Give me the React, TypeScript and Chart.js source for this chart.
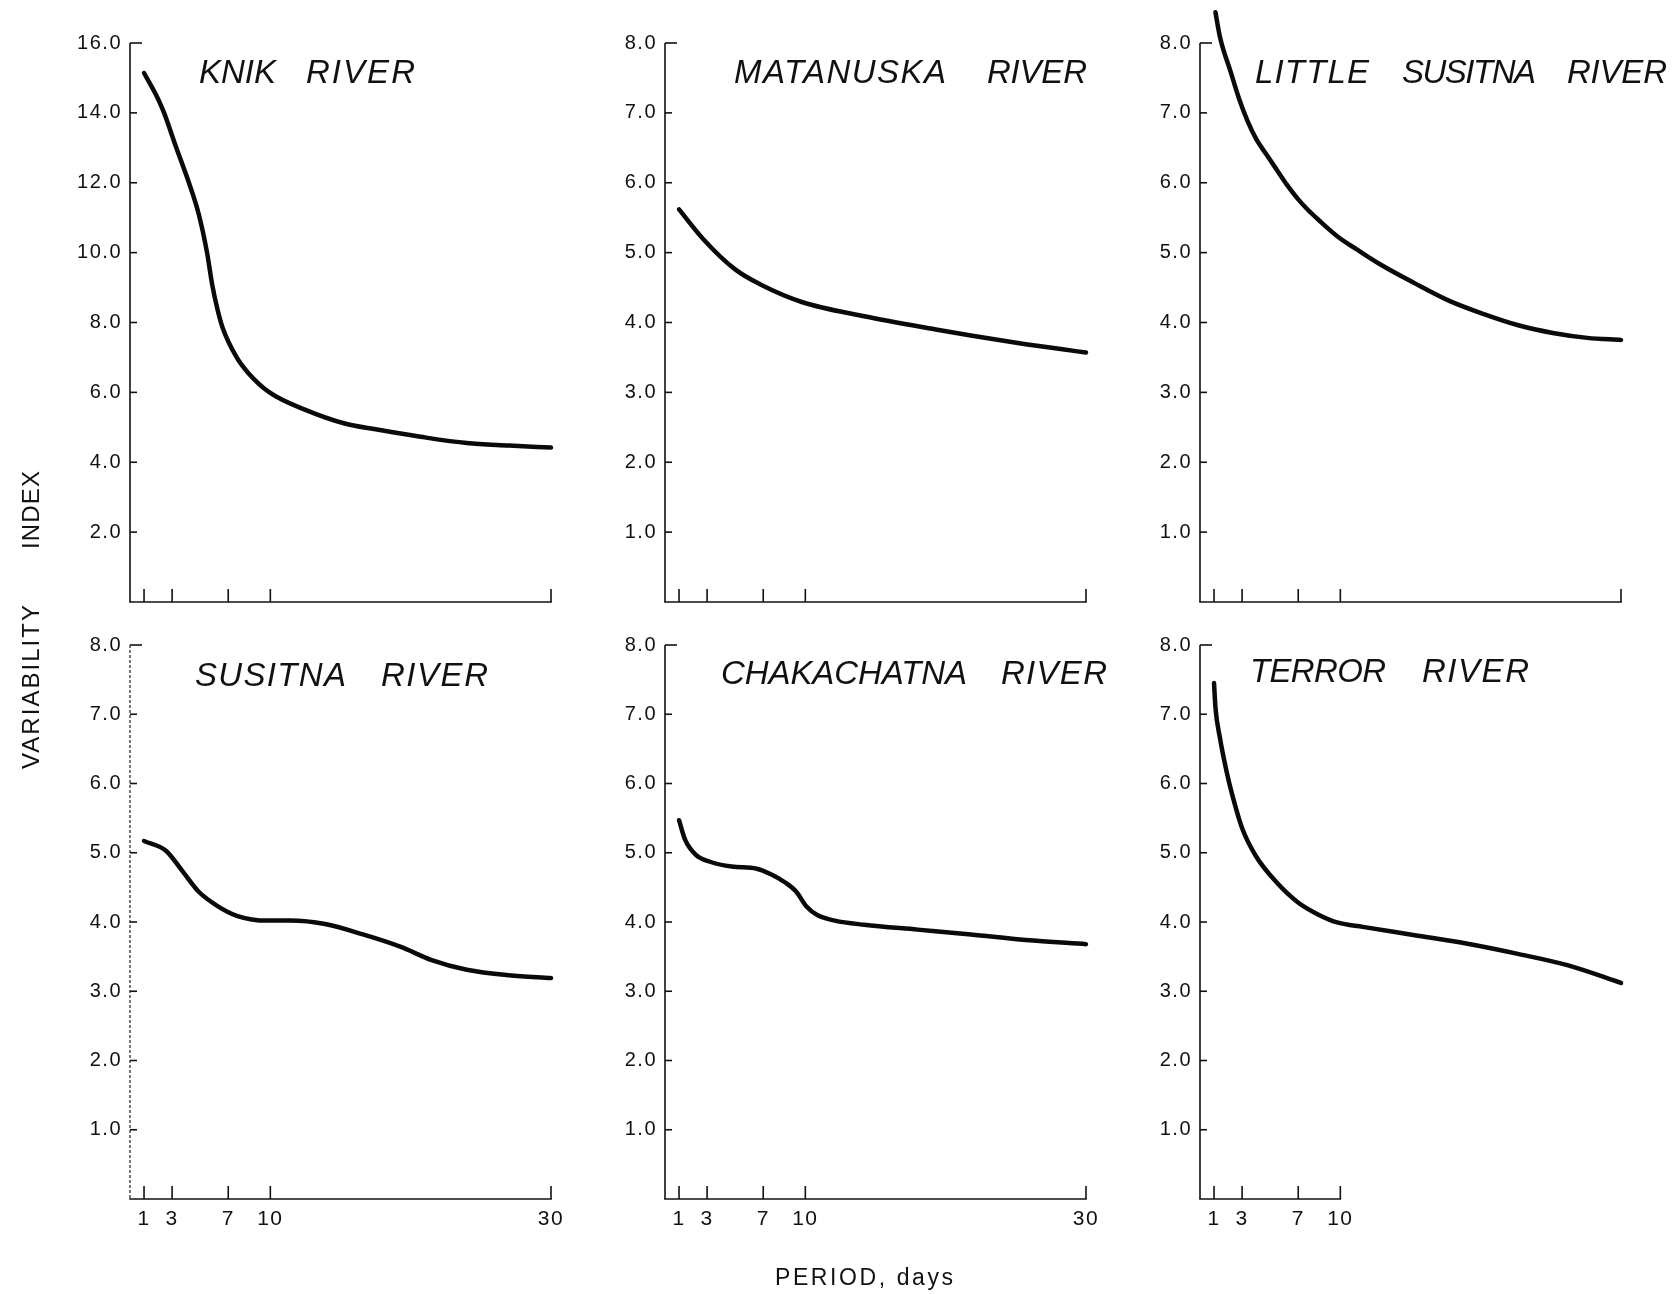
import React, { useEffect, useRef } from "react";
import { Chart, registerables } from "chart.js";

Chart.register(...registerables);

// Tick positions along the period axis (days)
const periodTicks = [1, 3, 7, 10, 30];
const terrorPeriodTicks = [1, 3, 7, 10];

// Tick positions along the variability-index axis
const indexTicksKnik = [2, 4, 6, 8, 10, 12, 14, 16];
const indexTicks = [1, 2, 3, 4, 5, 6, 7, 8];

// Knik River
const knikPeriod = [1, 2.0, 2.43, 3.3, 4.2, 4.9, 5.49, 5.85, 6.25, 6.6, 7.56, 8.44, 9.94, 12.5, 15.3, 17.4, 20.7, 24.0, 27.0, 30];
const knikIndex = [15.14, 14.4, 14.0, 13.0, 12.0, 11.1, 10.0, 9.1, 8.35, 7.85, 7.03, 6.55, 6.0, 5.5, 5.11, 4.95, 4.73, 4.55, 4.48, 4.42];

// Matanuska River
const matanuskaPeriod = [1, 2.7, 5.0, 6.84, 9.8, 14.2, 19.3, 21.9, 25.7, 28.2, 30];
const matanuskaIndex = [5.62, 5.2, 4.76, 4.54, 4.29, 4.09, 3.9, 3.81, 3.69, 3.62, 3.57];

// Little Susitna River
const littleSusitnaPeriod = [1.1, 1.44, 2.18, 2.79, 3.4, 4.02, 4.75, 5.49, 6.2, 6.97, 7.7, 8.44, 9.87, 11.14, 12.86, 15.32, 17.77, 20.23, 22.68, 25.14, 27.6, 30];
const littleSusitnaIndex = [8.44, 8.07, 7.59, 7.2, 6.88, 6.62, 6.4, 6.18, 5.97, 5.77, 5.61, 5.47, 5.22, 5.05, 4.83, 4.56, 4.31, 4.12, 3.96, 3.85, 3.78, 3.75];

// Susitna River
const susitnaPeriod = [1, 2.56, 3.79, 4.88, 6.24, 7.61, 9.79, 11.4, 13.9, 16.6, 19.3, 21.5, 24.0, 27.0, 30];
const susitnaIndex = [5.17, 5.03, 4.72, 4.44, 4.23, 4.09, 4.02, 4.02, 3.97, 3.82, 3.64, 3.45, 3.31, 3.23, 3.19];

// Chakachatna River
const chakachatnaPeriod = [1.0, 1.43, 2.2, 3.21, 4.75, 6.53, 7.55, 8.57, 9.34, 10.1, 10.85, 12.1, 14.2, 18.0, 21.8, 25.7, 30];
const chakachatnaIndex = [5.47, 5.19, 4.97, 4.87, 4.8, 4.77, 4.69, 4.57, 4.44, 4.22, 4.1, 4.02, 3.96, 3.89, 3.82, 3.74, 3.68];

// Terror River
const terrorPeriod = [1, 1.1, 1.42, 1.91, 2.28, 3.01, 3.99, 5.47, 6.94, 8.41, 9.84, 11.6, 15.3, 18.97, 22.65, 26.3, 30];
const terrorIndex = [7.45, 7.1, 6.66, 6.16, 5.85, 5.35, 4.95, 4.57, 4.29, 4.11, 3.99, 3.93, 3.81, 3.69, 3.54, 3.37, 3.12];

// Page grid: plot-area origin and size per column / row
const COLS = [
  { x0: 130, width: 421 },
  { x0: 665, width: 421 },
  { x0: 1200, width: 421 },
];
const ROWS = [
  { top: 43, height: 559 },
  { top: 645, height: 554 },
];
const AXIS_W = 70;
const PAD_TOP = 40;
const PAD_RIGHT = 30;
const AXIS_H = 45;

const INK = "#111111";
const LABEL_FAMILY = "'Liberation Sans', Arial, Helvetica, sans-serif";
const Y_TICK_FONT = { family: LABEL_FAMILY, size: 20 };
const X_TICK_FONT = { family: LABEL_FAMILY, size: 21 };
const TITLE_FONT = LABEL_FAMILY;

type Word = { text: string; x1: number; x2: number };
type Panel = {
  key: string;
  col: number;
  row: number;
  period: number[];
  index: number[];
  yMax: number;
  yTicks: number[];
  xTicks: number[];
  axisEnd: number;
  showXLabels: boolean;
  dottedYAxis: boolean;
  words: Word[];
  baseline: number;
};

const panels: Panel[] = [
  {
    key: "knik", col: 0, row: 0, period: knikPeriod, index: knikIndex, yMax: 16, yTicks: indexTicksKnik,
    xTicks: periodTicks, axisEnd: 30, showXLabels: false, dottedYAxis: false,
    words: [{ text: "KNIK", x1: 199, x2: 276 }, { text: "RIVER", x1: 306, x2: 415 }], baseline: 83,
  },
  {
    key: "matanuska", col: 1, row: 0, period: matanuskaPeriod, index: matanuskaIndex, yMax: 8, yTicks: indexTicks,
    xTicks: periodTicks, axisEnd: 30, showXLabels: false, dottedYAxis: false,
    words: [{ text: "MATANUSKA", x1: 734, x2: 946 }, { text: "RIVER", x1: 987, x2: 1087 }], baseline: 83,
  },
  {
    key: "littleSusitna", col: 2, row: 0, period: littleSusitnaPeriod, index: littleSusitnaIndex, yMax: 8, yTicks: indexTicks,
    xTicks: periodTicks, axisEnd: 30, showXLabels: false, dottedYAxis: false,
    words: [
      { text: "LITTLE", x1: 1255, x2: 1369 },
      { text: "SUSITNA", x1: 1402, x2: 1536 },
      { text: "RIVER", x1: 1567, x2: 1667 },
    ],
    baseline: 83,
  },
  {
    key: "susitna", col: 0, row: 1, period: susitnaPeriod, index: susitnaIndex, yMax: 8, yTicks: indexTicks,
    xTicks: periodTicks, axisEnd: 30, showXLabels: true, dottedYAxis: true,
    words: [{ text: "SUSITNA", x1: 195, x2: 346 }, { text: "RIVER", x1: 381, x2: 488 }], baseline: 686,
  },
  {
    key: "chakachatna", col: 1, row: 1, period: chakachatnaPeriod, index: chakachatnaIndex, yMax: 8, yTicks: indexTicks,
    xTicks: periodTicks, axisEnd: 30, showXLabels: true, dottedYAxis: false,
    words: [{ text: "CHAKACHATNA", x1: 721, x2: 967 }, { text: "RIVER", x1: 1001, x2: 1107 }], baseline: 684,
  },
  {
    key: "terror", col: 2, row: 1, period: terrorPeriod, index: terrorIndex, yMax: 8, yTicks: indexTicks,
    xTicks: terrorPeriodTicks, axisEnd: 10, showXLabels: true, dottedYAxis: false,
    words: [{ text: "TERROR", x1: 1250, x2: 1386 }, { text: "RIVER", x1: 1422, x2: 1529 }], baseline: 682,
  },
];

// Draws the axis lines and the inward-pointing tick marks from the chart's scales,
// and widens the letter spacing of the tick labels.
const axisFramePlugin = {
  id: "axisFrame",
  beforeDraw(chart: any) {
    chart.ctx.letterSpacing = "1.5px";
  },
  afterDraw(chart: any, _args: any, opts: any) {
    const { ctx } = chart;
    ctx.letterSpacing = "0px";
    const xs = chart.scales.x;
    const ys = chart.scales.y;
    const xLeft = xs.getPixelForValue(0);
    const yBase = ys.getPixelForValue(0);
    const yTop = ys.getPixelForValue(ys.max);
    const xEnd = xs.getPixelForValue(opts.axisEnd);
    ctx.save();
    ctx.strokeStyle = INK;
    ctx.lineWidth = 1.6;
    ctx.lineCap = "butt";

    if (opts.dotted) {
      ctx.strokeStyle = "#555555";
      ctx.setLineDash([3, 2]);
    }
    ctx.beginPath();
    ctx.moveTo(xLeft, yTop);
    ctx.lineTo(xLeft, yBase);
    ctx.stroke();
    ctx.setLineDash([]);
    ctx.strokeStyle = INK;

    ctx.beginPath();
    ctx.moveTo(xLeft - 0.8, yBase);
    ctx.lineTo(xEnd + 0.8, yBase);
    ctx.stroke();

    ys.ticks.forEach((t: any) => {
      const py = ys.getPixelForValue(t.value);
      const len = t.value === ys.max ? 12 : 7;
      ctx.beginPath();
      ctx.moveTo(xLeft, py);
      ctx.lineTo(xLeft + len, py);
      ctx.stroke();
    });

    xs.ticks.forEach((t: any) => {
      const px = xs.getPixelForValue(t.value);
      ctx.beginPath();
      ctx.moveTo(px, yBase);
      ctx.lineTo(px, yBase - 13);
      ctx.stroke();
    });
    ctx.restore();
  },
};

function RiverPanel({ p }: { p: Panel }) {
  const ref = useRef<HTMLCanvasElement | null>(null);
  const col = COLS[p.col];
  const row = ROWS[p.row];
  const width = AXIS_W + col.width + PAD_RIGHT;
  const height = PAD_TOP + row.height + AXIS_H;

  useEffect(() => {
    const canvas = ref.current;
    if (!canvas) return;
    const chart = new Chart(canvas, {
      type: "line",
      data: {
        datasets: [
          {
            data: p.period.map((x, i) => ({ x, y: p.index[i] })),
            borderColor: "#0a0a0a",
            borderWidth: 4.5,
            pointRadius: 0,
            cubicInterpolationMode: "monotone",
            borderCapStyle: "round",
            borderJoinStyle: "round",
            fill: false,
            clip: false,
          },
        ],
      },
      options: {
        responsive: false,
        animation: false,
        events: [],
        layout: { padding: { left: 0, top: PAD_TOP, right: PAD_RIGHT, bottom: 0 }, autoPadding: false },
        plugins: {
          legend: { display: false },
          tooltip: { enabled: false },
          axisFrame: { axisEnd: p.axisEnd, dotted: p.dottedYAxis },
        },
        scales: {
          x: {
            type: "linear",
            min: 0,
            max: 30,
            grid: { display: false, drawTicks: false },
            border: { display: false },
            afterBuildTicks: (s: any) => {
              s.ticks = p.xTicks.map((v) => ({ value: v }));
            },
            afterFit: (s: any) => {
              s.height = AXIS_H;
            },
            ticks: {
              display: p.showXLabels,
              autoSkip: false,
              maxRotation: 0,
              minRotation: 0,
              padding: 8,
              color: INK,
              font: X_TICK_FONT,
              callback: (v: any) => String(v),
            },
          },
          y: {
            type: "linear",
            min: 0,
            max: p.yMax,
            grid: { display: false, drawTicks: false },
            border: { display: false },
            afterBuildTicks: (s: any) => {
              s.ticks = p.yTicks.map((v) => ({ value: v }));
            },
            afterFit: (s: any) => {
              s.width = AXIS_W;
            },
            ticks: {
              padding: 8,
              color: INK,
              font: Y_TICK_FONT,
              callback: (v: any) => Number(v).toFixed(1),
            },
          },
        },
      },
      plugins: [axisFramePlugin],
    } as any);
    return () => chart.destroy();
  }, []);

  return (
    <canvas
      ref={ref}
      width={width}
      height={height}
      style={{
        position: "absolute",
        left: col.x0 - AXIS_W,
        top: row.top - PAD_TOP,
        width,
        height,
      }}
    />
  );
}

export default function App() {
  return (
    <div
      style={{
        position: "absolute",
        left: 0,
        top: 0,
        width: 1680,
        height: 1294,
        background: "#ffffff",
        overflow: "hidden",
      }}
    >
      {panels.map((p) => (
        <RiverPanel key={p.key} p={p} />
      ))}
      <svg
        width={1680}
        height={1294}
        style={{ position: "absolute", left: 0, top: 0, pointerEvents: "none" }}
      >
        {panels.map((p) =>
          p.words.map((w) => (
            <text
              key={p.key + w.text}
              x={w.x1}
              y={p.baseline}
              textLength={w.x2 - w.x1}
              lengthAdjust="spacing"
              fontFamily={TITLE_FONT}
              fontStyle="italic"
              fontSize={33}
              fill={INK}
            >
              {w.text}
            </text>
          ))
        )}
        <text
          transform="translate(38.5, 769) rotate(-90)"
          textLength={164}
          lengthAdjust="spacing"
          fontFamily={TITLE_FONT}
          fontSize={24}
          fill={INK}
        >
          VARIABILITY
        </text>
        <text
          transform="translate(38.5, 549) rotate(-90)"
          textLength={78}
          lengthAdjust="spacing"
          fontFamily={TITLE_FONT}
          fontSize={24}
          fill={INK}
        >
          INDEX
        </text>
        <text
          x={775}
          y={1285}
          textLength={178}
          lengthAdjust="spacing"
          fontFamily={TITLE_FONT}
          fontSize={23}
          fill={INK}
        >
          PERIOD, days
        </text>
      </svg>
    </div>
  );
}
